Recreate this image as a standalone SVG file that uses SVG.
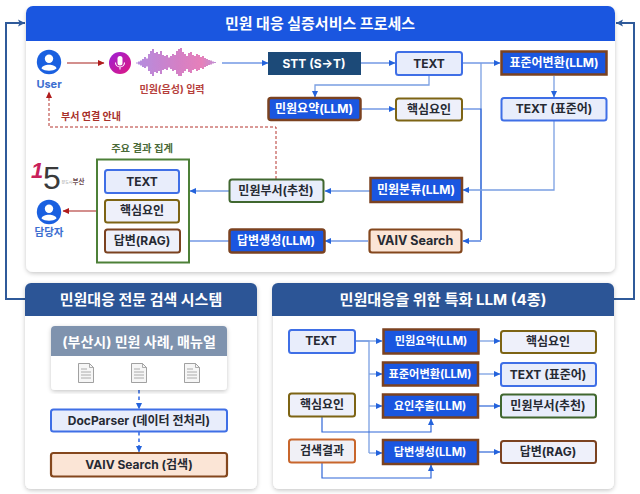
<svg xmlns="http://www.w3.org/2000/svg" width="640" height="494" viewBox="0 0 640 494">
<style>
text{font-family:"Inter","Noto Sans CJK KR","Noto Sans",sans-serif;font-weight:700;text-anchor:middle;dominant-baseline:central;fill:#262a33;font-size:12px}
.panel{fill:#fff;filter:url(#sh)}
.hd{font-size:15px;fill:#fff}
.w{fill:#fff;font-size:12px}
.ws{fill:#fff;font-size:11.200px}
.bx{stroke-width:2}
.blue{fill:#e8edfb;stroke:#3f6fe6}
.olive{fill:#eef0fa;stroke:#7d6414}
.green{fill:#e8edfb;stroke:#40672f}
.brown{fill:#eef0fa;stroke:#7b4220}
.llm{fill:#1a56e0;stroke:#7b4220;stroke-width:2.500}
.peach{fill:#fbe5d6;stroke:#84471d;stroke-width:2.200}
.orange{fill:#f0f0f6;stroke:#c8662c}
.c{fill:none;stroke:#2f66d8;stroke-width:1.200;marker-end:url(#ab)}
.l{fill:none;stroke:#2f66d8;stroke-width:1.200}
.lt{fill:none;stroke:#7a9fe2;stroke-width:1.300}
.lta{fill:none;stroke:#7a9fe2;stroke-width:1.300;marker-end:url(#ab)}
.r{fill:none;stroke:#a8201c;stroke-width:1.200;marker-end:url(#ar)}
.dr{fill:none;stroke:#b5342e;stroke-width:1;stroke-dasharray:3 2;marker-end:url(#ar)}
.db{fill:none;stroke:#1f5be0;stroke-width:1.400;stroke-dasharray:3.500 3;marker-end:url(#ab)}
.o{fill:none;stroke:#2f5a9a;stroke-width:2;marker-end:url(#ao)}
.doc{fill:#f6f6f6;stroke:#8a8a8a;stroke-width:.8}
.dl{stroke:#9a9a9a;stroke-width:.8;fill:none}
</style>
<defs>
<filter id="sh" x="-5%" y="-5%" width="110%" height="110%"><feDropShadow dx="0" dy="1.500" stdDeviation="2.200" flood-color="#000" flood-opacity=".22"/></filter>
<filter id="soft" x="-5%" y="-5%" width="110%" height="110%"><feGaussianBlur stdDeviation=".4"/></filter>
<marker id="ab" markerWidth="7" markerHeight="7" refX="6" refY="3.500" orient="auto" markerUnits="userSpaceOnUse"><path d="M0 .5L6.500 3.500L0 6.500z" fill="#2463dc"/></marker>
<marker id="ar" markerWidth="7" markerHeight="7" refX="6" refY="3.500" orient="auto" markerUnits="userSpaceOnUse"><path d="M0 .5L6.500 3.500L0 6.500z" fill="#b01c1c"/></marker>
<marker id="ao" markerWidth="8" markerHeight="8" refX="7" refY="4" orient="auto" markerUnits="userSpaceOnUse"><path d="M0 .5L7 4L0 7.500L1.500 4z" fill="#2f5a9a"/></marker>
<linearGradient id="wg" gradientUnits="userSpaceOnUse" x1="136" x2="218" y1="0" y2="0"><stop offset="0" stop-color="#a070d8"/><stop offset=".5" stop-color="#c860b8"/><stop offset=".8" stop-color="#e060a8"/><stop offset="1" stop-color="#a878d0"/></linearGradient>
<linearGradient id="mg" x1="0" x2="1" y1="0" y2="1"><stop offset="0" stop-color="#9a20d8"/><stop offset="1" stop-color="#e01880"/></linearGradient>
<g id="person"><circle r="12.200" fill="#1a60e0"/><circle cy="-3.200" r="4.200" fill="#fff"/><path d="M-7.500 6.500C-6.500 1.500 6.500 1.500 7.500 6.500C4 9.500 -4 9.500 -7.500 6.500z" fill="#fff"/></g>
<g id="docu"><path class="doc" d="M-7.500 -9.500H3.500L7.500 -5.500V9.500H-7.500z"/><path class="dl" d="M3.500 -9.500V-5.500H7.500M-5 -4H1M-5 -1H5M-5 2H5M-5 5H5"/></g>
</defs>

<g id="connectors">
<path class="o" d="M26 299H6V23H25"/>
<path class="o" d="M613 299H634V23H616"/>
</g>

<g id="panel-process">
<rect class="panel" x="26" y="7" width="589" height="265" rx="7"/>
<path d="M26 41V13a7 7 0 0 1 7-7H608a7 7 0 0 1 7 7V41z" fill="#1a56e0"/>
<text class="hd" x="320" y="23.500">민원 대응 실증서비스 프로세스</text>
</g>
<g id="panel-search">
<rect class="panel" x="25" y="283" width="232" height="206" rx="6"/>
<path d="M25 316V289a6 6 0 0 1 6-6H251a6 6 0 0 1 6 6V316z" fill="#2c5596"/>
<text class="hd" x="141" y="299.500">민원대응 전문 검색 시스템</text>
</g>
<g id="panel-llm">
<rect class="panel" x="273" y="283" width="341" height="206" rx="6"/>
<path d="M272 316V289a6 6 0 0 1 6-6H608a6 6 0 0 1 6 6V316z" fill="#2c5596"/>
<text class="hd" x="443" y="299.500" style="font-size:15.200px">민원대응을 위한 특화 LLM (4종)</text>
</g>

<g id="edges">
<path class="r" d="M67 63H104"/>
<path class="c" d="M222 63H268"/>
<path class="c" d="M361 63H395"/>
<path class="c" d="M462 63H500"/>
<path class="lt" d="M481 63V240"/>
<path class="lta" d="M429 75V85H315V97"/>
<path class="c" d="M361 109H395"/>
<path class="l" d="M462 109H481V240"/>
<path class="c" d="M481 241H463"/>
<path class="lta" d="M554 76V97"/>
<path class="lta" d="M554 121V190H463"/>
<path class="lta" d="M370 191H325"/>
<path class="c" d="M368 241H325"/>
<path class="lta" d="M229 191H190"/>
<path class="c" d="M229 241H181"/>
<path class="r" d="M96 211H63"/>
<path class="dr" d="M276 179V127H49V92"/>
<path class="db" d="M139 390V409"/>
<path class="db" d="M139 432V452"/>
<path class="lt" d="M355 341H369V453"/>
<path class="lta" d="M355 341H382"/>
<path class="lta" d="M369 374H382"/>
<path class="lta" d="M369 406H382"/>
<path class="lta" d="M369 453H382"/>
<path class="c" d="M322 417V432H431V419"/>
<path class="c" d="M322 463V478H431V465"/>
<path class="lta" d="M480 341H500"/>
<path class="lta" d="M479 374H500"/>
<path class="c" d="M479 406H500"/>
<path class="c" d="M479 452H500"/>
</g>

<g id="user"><use href="#person" x="49" y="62"/><text x="49" y="84" style="fill:#3c6ed0;font-size:11px">User</text></g>
<g id="mic"><circle cx="120" cy="63" r="11" fill="url(#mg)"/><rect x="117.500" y="56" width="5" height="9.500" rx="2.500" fill="#fff"/><path d="M115.500 62.500a4.500 4.500 0 0 0 9 0M120 67v2.500" fill="none" stroke="#fff" stroke-width="1.100"/></g>
<g id="wave"><path filter="url(#soft)" fill="none" stroke="url(#wg)" stroke-width="1.600" d="M137 62.500v1M139 61.500v3M141 60.500v5M143 59v8M145 57v11M147 58.500v8M149 54v17M151 51v23M153 49v27M155 53v19M157 52v21M159 54v17M161 51v23M163 55v15M165 56v13M167 55v15M169 57.500v10M171 56v13M173 54v17M175 55v15M177 51v23M179 49v27M181 48v28M183 52v21M185 54v17M187 56v13M189 53v19M191 52v21M193 55v15M195 56v13M197 54v17M199 55v15M201 57v11M203 56v13M205 58v9M207 59v7M209 60v5M211 60.500v4M213 61.500v2M215 62v1"/><text x="172" y="89" style="fill:#b6403c;font-size:10px">민원(음성) 입력</text></g>
<text id="label-dept" x="91" y="116" style="fill:#a8302a;font-size:10px">부서 연결 안내</text>

<g id="stt"><rect x="268" y="52" width="93" height="23" fill="#1c4a78"/><text class="w" x="314" y="63">STT (S→T)</text></g>
<g id="text1"><rect class="bx blue" x="396" y="52" width="66" height="23" rx="2.500"/><text x="429" y="63">TEXT</text></g>
<g id="std"><rect class="llm" x="501.500" y="51.500" width="105" height="23"/><text class="w" x="554" y="62.500">표준어변환(LLM)</text></g>
<g id="sum"><rect class="llm" x="268.500" y="98" width="92" height="22" rx="2.500"/><text class="w" x="314" y="108.500">민원요약(LLM)</text></g>
<g id="key1"><rect class="bx olive" x="396" y="98.500" width="66" height="22" rx="2.500"/><text x="429" y="109">핵심요인</text></g>
<g id="textstd"><rect class="bx blue" x="501.500" y="98" width="105" height="22.500" rx="2.500"/><text x="554" y="108.500">TEXT (표준어)</text></g>
<g id="classify"><rect class="llm" x="370.500" y="178" width="91.500" height="24"/><text class="w" x="416" y="189.500">민원분류(LLM)</text></g>
<g id="vaiv"><rect class="peach" x="369.500" y="229.500" width="92" height="23" rx="2.500"/><text x="415" y="240.500" style="font-size:12.500px">VAIV Search</text></g>
<g id="dept"><rect class="bx green" x="229.500" y="179.500" width="94" height="22.500" rx="2.500"/><text x="276" y="190">민원부서(추천)</text></g>
<g id="gen"><rect class="llm" x="229.500" y="229.500" width="95" height="23" rx="2.500"/><text class="w" x="276" y="240.500">답변생성(LLM)</text></g>
<g id="agg">
<text x="142" y="148" style="fill:#4a6a38;font-size:10.300px">주요 결과 집계</text>
<rect x="97" y="159.500" width="92" height="103" fill="#fff" stroke="#4d8038" stroke-width="2"/>
<rect class="bx blue" x="105" y="170" width="74" height="23" rx="2.500"/><text x="142" y="181">TEXT</text>
<rect class="bx olive" x="105" y="200" width="74" height="22.500" rx="2.500"/><text x="142" y="210.500">핵심요인</text>
<rect class="bx brown" x="105" y="229.500" width="75" height="23" rx="2.500"/><text x="142" y="240.500">답변(RAG)</text>
</g>
<g id="logo">
<text x="31" y="170" style="text-anchor:start;fill:#c8205a;font-size:22px;font-style:italic;font-family:'Liberation Sans',sans-serif">1</text>
<text x="43" y="178" style="text-anchor:start;fill:#3a3a3a;font-size:32px;font-weight:400;font-family:'Liberation Sans',sans-serif">5</text>
<text x="61.500" y="182" style="text-anchor:start;fill:#6a4a50;font-size:6.500px"><tspan style="font-size:4px;font-weight:400;fill:#999">분도시</tspan>부산</text>
</g>
<g id="staff"><use href="#person" x="49" y="212"/><text x="49" y="232" style="fill:#3c6ed0;font-size:10.500px">담당자</text></g>

<g id="docs">
<rect x="51" y="326" width="176" height="64" rx="4" fill="#fff" filter="url(#sh)"/>
<path d="M51 356V330a4 4 0 0 1 4-4H223a4 4 0 0 1 4 4V356z" fill="#7f93ae"/>
<text x="139" y="341.500" style="fill:#fff;font-size:14px">(부산시) 민원 사례, 매뉴얼</text>
<use href="#docu" x="86" y="373"/><use href="#docu" x="139" y="373"/><use href="#docu" x="192" y="373"/>
</g>
<g id="docparser"><rect class="bx blue" x="51" y="409.500" width="176" height="22" rx="2.500"/><text x="139" y="420">DocParser (데이터 전처리)</text></g>
<g id="vaiv2"><rect class="peach" x="51" y="453" width="176" height="23.500" rx="2.500"/><text x="139" y="464.500">VAIV Search (검색)</text></g>

<g id="l-text"><rect class="bx blue" x="289" y="330" width="66" height="23" rx="2.500"/><text x="321" y="340.500">TEXT</text></g>
<g id="l-key"><rect class="bx olive" x="289" y="393.500" width="66" height="23" rx="2.500"/><text x="322" y="404.500">핵심요인</text></g>
<g id="l-search"><rect class="bx orange" x="289" y="439.500" width="66" height="23" rx="2.500"/><text x="322" y="450.500">검색결과</text></g>
<g id="l-sum"><rect class="llm" x="383.500" y="329.500" width="95" height="24"/><text class="ws" x="431" y="341">민원요약(LLM)</text></g>
<g id="l-std"><rect class="llm" x="383" y="362.500" width="95" height="23"/><text class="ws" x="430" y="373.500">표준어변환(LLM)</text></g>
<g id="l-ext"><rect class="llm" x="383" y="394.500" width="95" height="23"/><text class="ws" x="430" y="405.500">요인추출(LLM)</text></g>
<g id="l-gen"><rect class="llm" x="383" y="440" width="95" height="24"/><text class="ws" x="430" y="451.500">답변생성(LLM)</text></g>
<g id="r-key"><rect class="bx olive" x="501" y="331" width="95" height="22" rx="2.500"/><text x="548" y="341">핵심요인</text></g>
<g id="r-std"><rect class="bx blue" x="501" y="363" width="95" height="23" rx="2.500"/><text x="548" y="374">TEXT (표준어)</text></g>
<g id="r-dept"><rect class="bx green" x="501" y="394.500" width="95" height="23" rx="2.500"/><text x="548" y="405.500">민원부서(추천)</text></g>
<g id="r-ans"><rect class="bx brown" x="501" y="441" width="95" height="22" rx="2.500"/><text x="548" y="451.500">답변(RAG)</text></g>
</svg>
